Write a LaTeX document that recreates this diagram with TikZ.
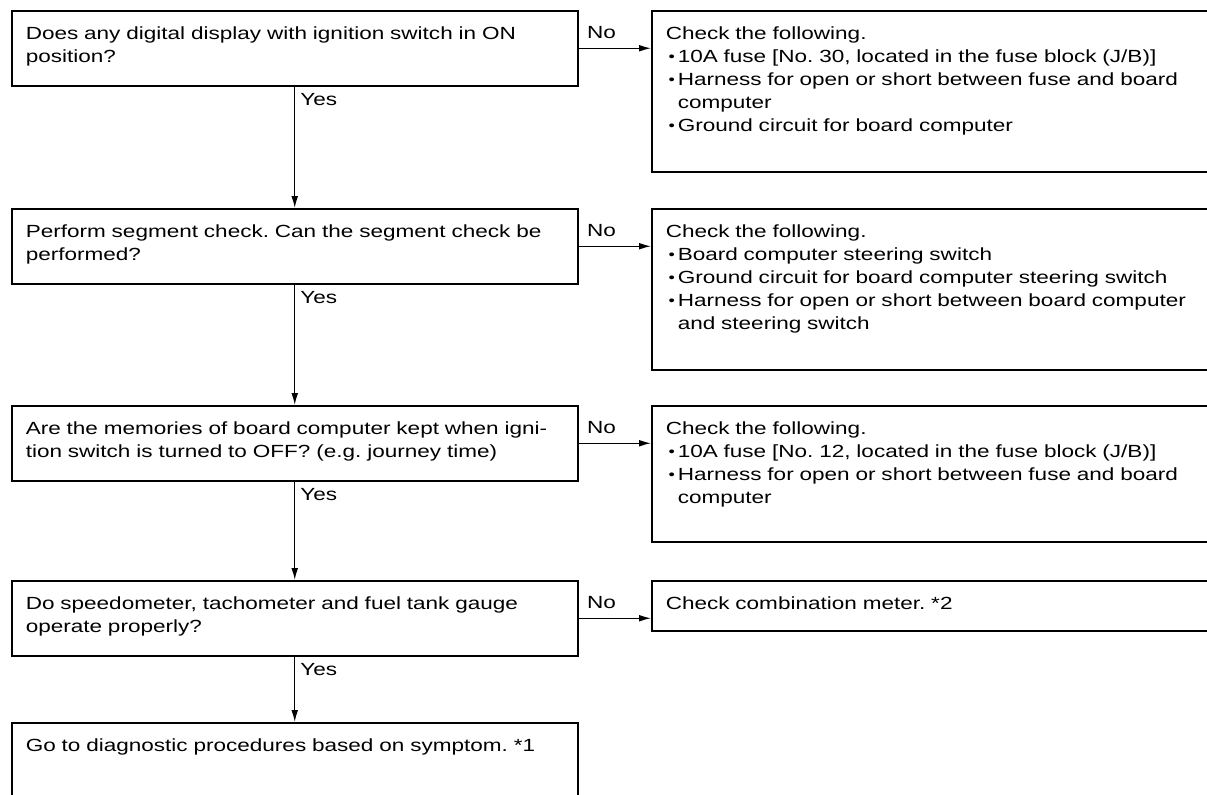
\documentclass[tikz,border=0pt]{standalone}
\usepackage{fontspec}
\setmainfont{Liberation Sans}[FakeStretch=1.28]
\usepackage{tikz}
\usetikzlibrary{arrows.meta,positioning}

\newcommand{\chkitem}{\par\leftskip=6pt\noindent%
  \llap{\makebox[4.6pt][l]{\raisebox{0.15ex}{\scalebox{0.8}{\textbullet}}}}}

\begin{document}
\frenchspacing
\begin{tikzpicture}[
    x=0.5pt, y=-0.5pt,
    font=\fontsize{8.8}{11.5}\selectfont\frenchspacing,
    question/.style={
        draw,
        line width=0.75pt,
        anchor=north west,
        inner xsep=7pt,
        inner ysep=0pt,
        text width=269pt,
        align=left,
        text height=14.5pt,
        text depth=#1
    },
    check/.style={
        question=#1,
        text width=290pt
    },
    flow/.style={
        -{Latex[length=6pt,width=3.4pt]},
        line width=0.65pt
    },
    answer/.style={
        inner sep=0pt
    }
]
\useasboundingbox (0,0) rectangle (1207,794);
\clip (0,0) rectangle (1207,794);
% Questions
\node[question=23pt] (q1) at (11,10) {Does any digital display with ignition switch in ON\\position?};
\node[question=23pt] (q2) at (11,208) {Perform segment check. Can the segment check be\\performed?};
\node[question=23pt] (q3) at (11,405) {Are the memories of board computer kept when igni-\\tion switch is turned to OFF? (e.g. journey time)};
\node[question=23pt] (q4) at (11,580) {Do speedometer, tachometer and fuel tank gauge\\operate properly?};
\node[question=24.5pt] (q5) at (11,722) {Go to diagnostic procedures based on symptom. *1};
% Checks
\node[check=66pt] (c1) at (651,10) {Check the following.%
    \chkitem 10A fuse [No. 30, located in the fuse block (J/B)]%
    \chkitem Harness for open or short between fuse and board\newline computer%
    \chkitem Ground circuit for board computer\par};
\node[check=66pt] (c2) at (651,208) {Check the following.%
    \chkitem Board computer steering switch%
    \chkitem Ground circuit for board computer steering switch%
    \chkitem Harness for open or short between board computer\newline and steering switch\par};
\node[check=53.5pt] (c3) at (651,405) {Check the following.%
    \chkitem 10A fuse [No. 12, located in the fuse block (J/B)]%
    \chkitem Harness for open or short between fuse and board\newline computer\par};
\node[check=10.5pt] (c4) at (651,580) {Check combination meter. *2};
% Yes arrows
\foreach \a/\b in {q1/q2, q2/q3, q3/q4, q4/q5} {
    \draw[flow] (\a.south) -- (\b.north)
        node[answer, pos=0, anchor=north west, xshift=2.5pt, yshift=-3pt] {Yes};
}
% No arrows
\foreach \a/\b in {q1/c1, q2/c2, q3/c3, q4/c4} {
    \draw[flow] (\a.east) -- (\a.east -| \b.west)
        node[answer, pos=0, anchor=south west, xshift=4pt, yshift=4.5pt] {No};
}
\end{tikzpicture}
\end{document}
